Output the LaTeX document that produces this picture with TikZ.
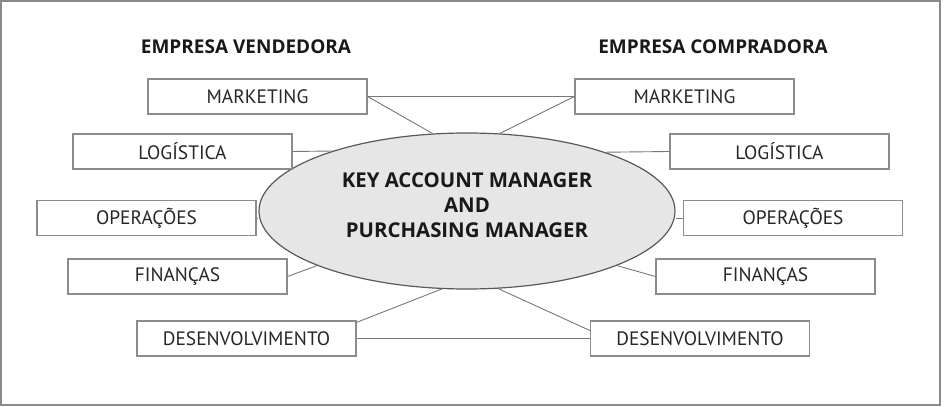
\documentclass[tikz,border=0pt]{standalone}
\usepackage{fontspec}
\setmainfont{PT Sans}
\newfontfamily\headfont{Open Sans}
\usepackage{xcolor}
\usepackage{tikz}
\usetikzlibrary{shapes.geometric}

\definecolor{framegray}{HTML}{8A8A8A}
\definecolor{boxgray}{HTML}{8C8C8C}
\definecolor{linkgray}{HTML}{777777}
\definecolor{hubfill}{HTML}{E6E6E6}

\begin{document}
\begin{tikzpicture}[x=0.5pt, y=-0.5pt,
        area/.style={draw=boxgray, line width=0.6pt, minimum width=109.5pt, minimum height=17.5pt,
            inner sep=0pt, font=\fontsize{9.7}{11}\selectfont, text=black!85},
        side/.style={font=\headfont\fontsize{9.5}{11}\selectfont\bfseries, text=black!90},
        link/.style={draw=linkgray, line width=0.45pt}]
        % 1. Frame and fixed size
        \useasboundingbox (0,0) rectangle (944,407);
        \draw[framegray, line width=0.7pt] (1,1) rectangle (940,405);

        % 2. Company titles
        \node[side] (vend) at (246,47) {EMPRESA VENDEDORA};
        \node[side] (comp) at (713,47) {EMPRESA COMPRADORA};

        % 3. Central ellipse
        \node[ellipse, draw=black!65, fill=hubfill, line width=0.6pt, minimum width=208pt, minimum height=78pt,
            align=center, text depth=6pt, font=\headfont\fontsize{10.2}{12.4}\selectfont\bfseries, text=black!90]
            (kam) at (467,211) {KEY ACCOUNT MANAGER\\AND\\PURCHASING MANAGER};

        % 4. Departments of the selling company (left)
        \node[area] (mktL) at (257.5,96.5) {MARKETING};
        \node[area] (logL) at (182.5,151.5) {LOGÍSTICA};
        \node[area] (opeL) at (146.5,218) {OPERAÇÕES};
        \node[area] (finL) at (177.5,276.5) {FINANÇAS};
        \node[area] (desL) at (246.5,338.5) {DESENVOLVIMENTO};

        % 5. Departments of the buying company (right)
        \node[area] (mktR) at (684.5,96.5) {MARKETING};
        \node[area] (logR) at (779.5,151.5) {LOGÍSTICA};
        \node[area] (opeR) at (793,218) {OPERAÇÕES};
        \node[area] (finR) at (765.5,276.5) {FINANÇAS};
        \node[area] (desR) at (700,338.5) {DESENVOLVIMENTO};

        % 6. Links
        \draw[link] (mktL.east) -- (mktR.west);
        \draw[link] (mktL.east) -- (kam.114);
        \draw[link] (mktR.west) -- (kam.67);
        \draw[link] (logL.east) -- (kam.156);
        \draw[link] (logR.west) -- (kam.23);
        \draw[link] (opeL.east) -- (opeL.east -| kam.west);
        \draw[link] (opeR.west) -- (opeR.west -| kam.east);
        \draw[link] (finL.east) -- (kam.200);
        \draw[link] (finR.west) -- (kam.340);
        \draw[link] ([yshift=-1pt]desL.north east) -- (kam.252);
        \draw[link] ([yshift=4pt]desR.west) -- (kam.292);
        \draw[link] (desL.east) -- (desR.west);

    \end{tikzpicture}
\end{document}
